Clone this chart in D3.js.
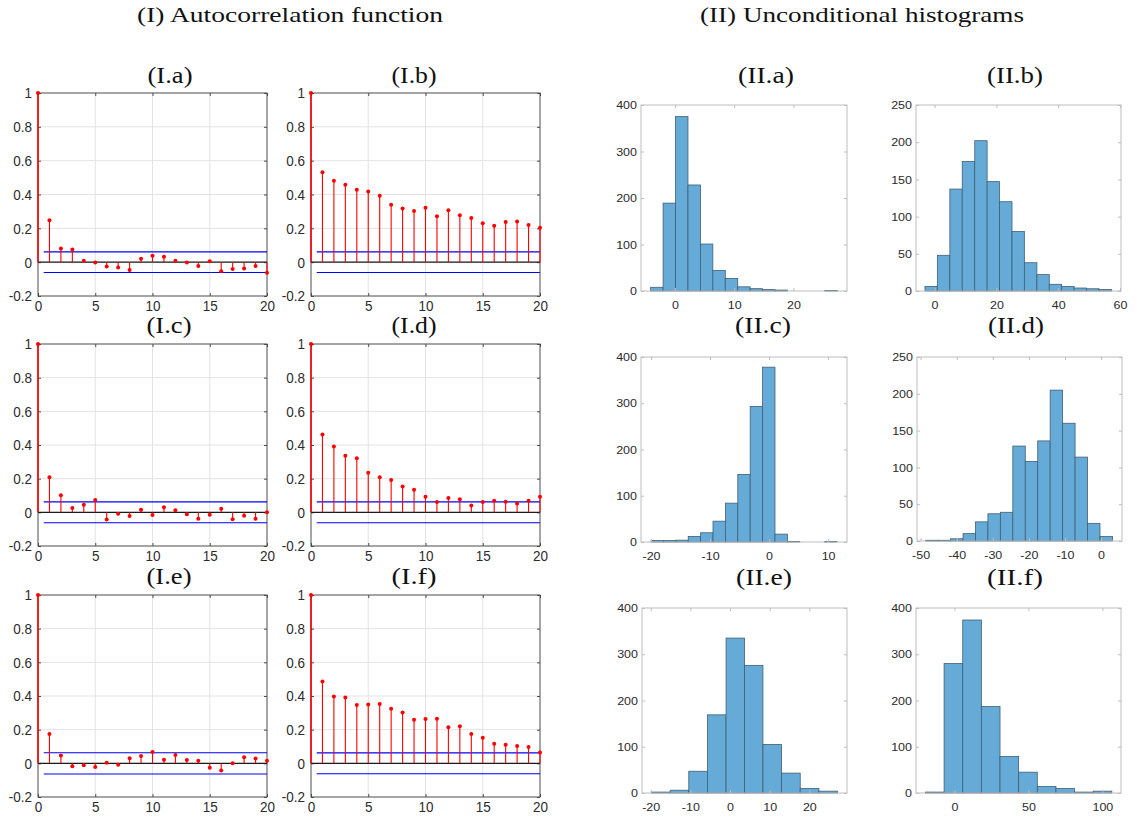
<!DOCTYPE html>
<html>
<head>
<meta charset="utf-8">
<script src="https://cdn.jsdelivr.net/npm/d3@7/dist/d3.min.js"></script>
<style>
  body { margin: 0; background: #fff; }
  .tick text { font-family: "Liberation Sans", Arial, sans-serif; fill: #2b2b2b; }
</style>
</head>
<body>
<svg id="chart" width="1139" height="823"></svg>
<script>
// ---- data: autocorrelations, lags 0..20 ----
const lags = [0, 1, 2, 3, 4, 5, 6, 7, 8, 9, 10, 11, 12, 13, 14, 15, 16, 17, 18, 19, 20];

const acfA = [1, 0.248, 0.081, 0.075, 0.008, -0.002, -0.026, -0.032, -0.046, 0.020, 0.038,
  0.032, 0.008, -0.002, -0.022, 0.006, -0.053, -0.040, -0.038, -0.022, -0.063];
const acfB = [1, 0.531, 0.481, 0.457, 0.428, 0.418, 0.392, 0.339, 0.317, 0.303, 0.321,
  0.271, 0.307, 0.277, 0.261, 0.230, 0.216, 0.238, 0.240, 0.220, 0.204];
const acfC = [1, 0.209, 0.101, 0.026, 0.045, 0.073, -0.043, -0.008, -0.022, 0.016, -0.016,
  0.030, 0.012, -0.012, -0.038, -0.014, 0.022, -0.041, -0.020, -0.038, 0.000];
const acfD = [1, 0.462, 0.391, 0.336, 0.322, 0.235, 0.209, 0.192, 0.154, 0.134, 0.093,
  0.061, 0.085, 0.077, 0.040, 0.061, 0.069, 0.063, 0.053, 0.069, 0.093];
const acfE = [1, 0.174, 0.047, -0.018, -0.012, -0.022, 0.004, -0.008, 0.030, 0.043, 0.067,
  0.022, 0.049, 0.020, 0.016, -0.026, -0.042, 0.000, 0.036, 0.028, 0.016];
const acfF = [1, 0.486, 0.397, 0.391, 0.346, 0.350, 0.352, 0.324, 0.302, 0.259, 0.263,
  0.265, 0.215, 0.221, 0.174, 0.152, 0.117, 0.111, 0.103, 0.097, 0.065];

// confidence bounds (+/-)
const bounds = [0.061, 0.061, 0.062, 0.062, 0.063, 0.062];

const acfXTicks = [0, 5, 10, 15, 20];
const acfYTicks = [-0.2, 0, 0.2, 0.4, 0.6, 0.8, 1];

// ---- data: histograms (bin edges and counts) ----
const histAEdges = [-4.1, -2.0, 0.1, 2.2, 4.3, 6.4, 8.5, 10.6, 12.7, 14.8, 16.9, 19.0, 21.1, 23.2, 25.3, 27.4];
const histACounts = [8, 189, 375, 228, 101, 44, 27, 9, 5, 3, 2, 0, 0, 0, 1];

const histBEdges = [-3.1, 0.9, 4.95, 8.95, 13.0, 17.0, 21.0, 25.05, 29.05, 33.1, 37.1, 41.1, 45.15, 49.15, 53.2, 57.2];
const histBCounts = [6, 48, 137, 174, 202, 147, 120, 80, 38, 22, 9, 6, 4, 3, 2];

const histCEdges = [-20.0, -17.9, -15.8, -13.7, -11.6, -9.5, -7.4, -5.3, -3.2, -1.1, 1.0, 3.1, 5.2, 7.3, 9.4, 11.5];
const histCCounts = [3, 3, 4, 12, 20, 45, 84, 146, 293, 378, 17, 1, 0, 0, 1];

const histDEdges = [-48.6, -45.15, -41.7, -38.25, -34.8, -31.35, -27.9, -24.45, -21.0, -17.55, -14.1, -10.65, -7.2, -3.75, -0.3, 3.15];
const histDCounts = [1, 1, 3, 10, 26, 37, 39, 129, 108, 136, 205, 160, 114, 24, 6];

const histEEdges = [-19.8, -15.1, -10.4, -5.7, -1.0, 3.65, 8.3, 13.0, 17.7, 22.4, 27.1];
const histECounts = [2, 6, 47, 169, 335, 276, 105, 43, 10, 4];

const histFEdges = [-19.6, -7.0, 5.6, 18.2, 30.8, 43.4, 56.0, 68.6, 81.2, 93.8, 106.4];
const histFCounts = [2, 280, 374, 187, 79, 45, 14, 10, 2, 4];

const svg = d3.select('#chart');

// main headings
svg.append('text')
  .attr('x', 290).attr('y', 22)
  .attr('text-anchor', 'middle')
  .attr('font-family', '"Liberation Serif", "DejaVu Serif", serif')
  .attr('font-size', 21)
  .attr('fill', '#111')
  .attr('textLength', 306).attr('lengthAdjust', 'spacingAndGlyphs')
  .text('(I) Autocorrelation function');

svg.append('text')
  .attr('x', 862).attr('y', 22)
  .attr('text-anchor', 'middle')
  .attr('font-family', '"Liberation Serif", "DejaVu Serif", serif')
  .attr('font-size', 21)
  .attr('fill', '#111')
  .attr('textLength', 324).attr('lengthAdjust', 'spacingAndGlyphs')
  .text('(II) Unconditional histograms');

const panelTitle = (label, cx, baseY) => {
  svg.append('text')
    .attr('x', cx).attr('y', baseY)
    .attr('text-anchor', 'middle')
    .attr('font-family', '"Liberation Serif", "DejaVu Serif", serif')
    .attr('font-size', 23)
    .attr('fill', '#111')
    .attr('textLength', label.length > 5 ? 56 : 45).attr('lengthAdjust', 'spacingAndGlyphs')
    .text(label);
};

// plain hyphen minus like the original
const plain = d => String(+(+d).toFixed(1));

// draws the four-sided frame with inward ticks
const drawFrame = (g, x, y, xTicks, yTicks, frameColor, opts) => {
  const [x0, x1] = x.range();
  const [y0, y1] = y.range(); // y0 bottom, y1 top

  const bottom = g.append('g').attr('transform', `translate(0,${y0})`)
    .call(d3.axisBottom(x).tickValues(xTicks).tickFormat(plain).tickSizeInner(-3).tickSizeOuter(0).tickPadding(opts.padX));
  const left = g.append('g').attr('transform', `translate(${x0},0)`)
    .call(d3.axisLeft(y).tickValues(yTicks).tickFormat(plain).tickSizeInner(-3).tickSizeOuter(0).tickPadding(opts.padY));
  const top = g.append('g').attr('transform', `translate(0,${y1})`)
    .call(d3.axisTop(x).tickValues(xTicks).tickFormat('').tickSizeInner(-3).tickSizeOuter(0));
  const right = g.append('g').attr('transform', `translate(${x1},0)`)
    .call(d3.axisRight(y).tickValues(yTicks).tickFormat('').tickSizeInner(-3).tickSizeOuter(0));

  [bottom, left, top, right].forEach(a => {
    a.select('.domain').remove();
    a.selectAll('line').attr('stroke', frameColor);
    a.selectAll('text')
      .attr('font-size', opts.fontSize)
      .attr('transform', `scale(1,${opts.stretch})`);
  });

  g.append('rect')
    .attr('x', x0).attr('y', y1)
    .attr('width', x1 - x0).attr('height', y0 - y1)
    .attr('fill', 'none')
    .attr('stroke', frameColor)
    .attr('stroke-width', 1);
};

const drawAcf = (values, bound, box, title, titleX, titleY) => {
  const g = svg.append('g');
  const x = d3.scaleLinear().domain([0, 20]).range([box.left, box.right]);
  const y = d3.scaleLinear().domain([-0.2, 1]).range([box.bottom, box.top]);

  // grid
  g.append('g').selectAll('line.gx')
    .data(acfXTicks.slice(1, -1))
    .enter().append('line')
    .attr('x1', d => x(d)).attr('x2', d => x(d))
    .attr('y1', box.top).attr('y2', box.bottom)
    .attr('stroke', '#e3e3e3');
  g.append('g').selectAll('line.gy')
    .data(acfYTicks.slice(1, -1))
    .enter().append('line')
    .attr('x1', box.left).attr('x2', box.right)
    .attr('y1', d => y(d)).attr('y2', d => y(d))
    .attr('stroke', '#e3e3e3');

  drawFrame(g, x, y, acfXTicks, acfYTicks, '#4d4d4d', { padX: 3.5, padY: 6, fontSize: 13.5, stretch: 1.15 });

  // zero line
  g.append('line')
    .attr('x1', x(0)).attr('x2', x(20))
    .attr('y1', y(0)).attr('y2', y(0))
    .attr('stroke', '#1a1a1a').attr('stroke-width', 1.4);

  // confidence bounds
  [bound, -bound].forEach(b => {
    g.append('line')
      .attr('x1', x(0.5)).attr('x2', x(20))
      .attr('y1', y(b)).attr('y2', y(b))
      .attr('stroke', '#0000ff').attr('stroke-width', 1.1);
  });

  const pts = lags.map((l, i) => ({ lag: l, v: values[i] }));

  g.append('g').selectAll('line')
    .data(pts)
    .enter().append('line')
    .attr('x1', d => x(d.lag)).attr('x2', d => x(d.lag))
    .attr('y1', y(0)).attr('y2', d => y(d.v))
    .attr('stroke', '#ff0000')
    .attr('stroke-width', d => (d.lag === 0 ? 1.6 : 1.1));

  g.append('g').selectAll('circle')
    .data(pts)
    .enter().append('circle')
    .attr('cx', d => x(d.lag)).attr('cy', d => y(d.v))
    .attr('r', 2)
    .attr('fill', '#ff0000');

  panelTitle(title, titleX, titleY);
};

const drawHist = (edges, counts, box, xDomain, yMax, xTicks, yTicks, title, titleX, titleY) => {
  const g = svg.append('g');
  const x = d3.scaleLinear().domain(xDomain).range([box.left, box.right]);
  const y = d3.scaleLinear().domain([0, yMax]).range([box.bottom, box.top]);

  const bins = counts.map((c, i) => ({ x0: edges[i], x1: edges[i + 1], c }));

  g.append('g').selectAll('rect')
    .data(bins.filter(b => b.c > 0))
    .enter().append('rect')
    .attr('x', d => x(d.x0))
    .attr('y', d => y(d.c))
    .attr('width', d => x(d.x1) - x(d.x0))
    .attr('height', d => y(0) - y(d.c))
    .attr('fill', '#66aad7')
    .attr('stroke', '#3f5f74')
    .attr('stroke-width', 0.8);

  drawFrame(g, x, y, xTicks, yTicks, '#bdbdbd', { padX: 11, padY: 4, fontSize: 12.5, stretch: 0.9 });

  panelTitle(title, titleX, titleY);
};

// ---- panels ----
drawAcf(acfA, bounds[0], { left: 38, right: 267, top: 93, bottom: 296 }, '(I.a)', 170, 83);
drawAcf(acfB, bounds[1], { left: 311, right: 540, top: 93, bottom: 296 }, '(I.b)', 414, 83);
drawAcf(acfC, bounds[2], { left: 38, right: 267, top: 344, bottom: 546 }, '(I.c)', 169, 333);
drawAcf(acfD, bounds[3], { left: 311, right: 540, top: 344, bottom: 546 }, '(I.d)', 414, 333);
drawAcf(acfE, bounds[4], { left: 38, right: 267, top: 595, bottom: 797 }, '(I.e)', 169, 584);
drawAcf(acfF, bounds[5], { left: 311, right: 540, top: 595, bottom: 797 }, '(I.f)', 414, 584);

drawHist(histAEdges, histACounts, { left: 641, right: 847, top: 105, bottom: 291 }, [-5.73, 29.05], 400,
  [0, 10, 20], [0, 100, 200, 300, 400], '(II.a)', 766, 83);
drawHist(histBEdges, histBCounts, { left: 916, right: 1121, top: 105, bottom: 291 }, [-6.0, 60.3], 250,
  [0, 20, 40, 60], [0, 50, 100, 150, 200, 250], '(II.b)', 1015, 83);
drawHist(histCEdges, histCCounts, { left: 641, right: 847, top: 357, bottom: 542 }, [-21.7, 13.2], 400,
  [-20, -10, 0, 10], [0, 100, 200, 300, 400], '(II.c)', 763, 333);
drawHist(histDEdges, histDCounts, { left: 917, right: 1122, top: 357, bottom: 541 }, [-51, 5.8], 250,
  [-50, -40, -30, -20, -10, 0], [0, 50, 100, 150, 200, 250], '(II.d)', 1016, 333);
drawHist(histEEdges, histECounts, { left: 642, right: 847, top: 608, bottom: 793 }, [-22.2, 29.5], 400,
  [-20, -10, 0, 10, 20], [0, 100, 200, 300, 400], '(II.e)', 764, 585);
drawHist(histFEdges, histFCounts, { left: 916, right: 1121, top: 608, bottom: 793 }, [-26, 112.6], 400,
  [0, 50, 100], [0, 100, 200, 300, 400], '(II.f)', 1015, 585);
</script>
</body>
</html>
